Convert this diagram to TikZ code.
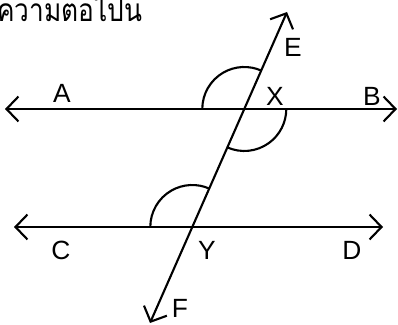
\documentclass[tikz,border=0pt]{standalone}
\usepackage{fontspec}
\usepackage{graphicx}
\setmainfont{Liberation Sans}
\newfontfamily\thaifont[Script=Thai]{Loma}
\usetikzlibrary{arrows.meta}

\begin{document}
\begin{tikzpicture}[
			x=0.02cm, y=0.02cm,
			recta/.style={
				line width=1.2pt,
				{Straight Barb[length=2.4mm, width=5mm]}-{Straight Barb[length=2.4mm, width=5mm]}
			},
			angulo/.style={
				line width=1.2pt
			},
			etiqueta/.style={
				inner sep=0pt,
				font=\fontsize{15}{17}\selectfont
			}
			]
			
			\useasboundingbox (0,0) rectangle (398,324);
			
			\node[anchor=base west, inner sep=0pt, font=\thaifont\fontsize{18}{20}\selectfont] (titulo) at (-3,302) {\scalebox{0.83}[1]{ความตอไปน}};
			
			\coordinate (pa) at (5,215);
			\coordinate (pb) at (397,215);
			\coordinate (pc) at (14,97);
			\coordinate (pd) at (383,97);
			\coordinate (pe) at (287,312);
			\coordinate (pf) at (150,1);
			
			\coordinate (X) at (intersection of pa--pb and pe--pf);
			\coordinate (Y) at (intersection of pc--pd and pe--pf);
			
			\draw[recta] (pa) -- (pb);
			\draw[recta] (pc) -- (pd);
			\draw[recta] (pf) -- (pe);
			
			\draw[angulo] ([shift={(180:42)}]X) arc (180:66:42);
			\draw[angulo] ([shift={(246:42)}]X) arc (246:360:42);
			\draw[angulo] ([shift={(180:42)}]Y) arc (180:66:42);
			
			\node[etiqueta] (lA) at (62,231) {A};
			\node[etiqueta] (lB) at (372,228) {B};
			\node[etiqueta] (lE) at (293,277) {E};
			\node[etiqueta] (lX) at (275,228) {X};
			\node[etiqueta] (lC) at (61,74) {C};
			\node[etiqueta] (lY) at (207,74) {Y};
			\node[etiqueta] (lD) at (352,74) {D};
			\node[etiqueta] (lF) at (180,16) {F};
			
		\end{tikzpicture}
\end{document}
